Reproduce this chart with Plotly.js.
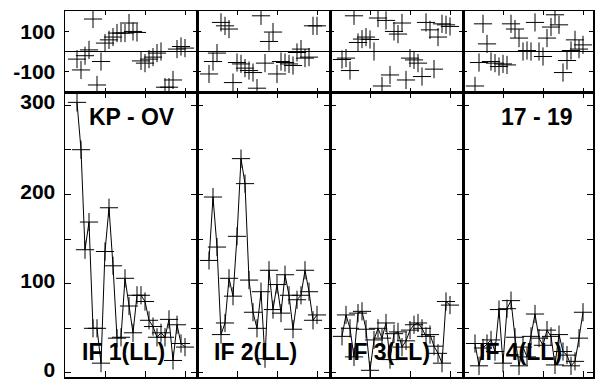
<!DOCTYPE html>
<html><head><meta charset="utf-8">
<script src="https://cdn.plot.ly/plotly-3.0.1.min.js"></script>
<style>html,body{margin:0;padding:0;background:#fff}#chart{width:595px;height:382px}</style>
</head><body><div id="chart"></div>
<script>
// ---- data ----
const sampleIdx = [3,4,5,6,7,8,9,10,11,12,13,14,15,16,17,18,19,20,21,22,23,24,25,26,27,28,29,30];
const panelNames = ['IF 1(LL)','IF 2(LL)','IF 3(LL)','IF 4(LL)'];
const baselineLabel = 'KP - OV';
const timeLabel = '17 - 19';

const amp1 = [303,250,138,169,50,50,11,136,185,120,39,40,106,75,45,87,87,80,59,52,40,45,40,60,14,54,33,29];
const amp2 = [126,197,141,43,56,106,86,153,240,212,104,68,50,91,16,115,71,99,67,110,87,49,82,87,115,91,59,65];
const amp3 = [41,65,50,18,67,69,49,3,37,50,39,56,15,44,46,29,36,48,54,56,50,41,43,30,22,11,80,76];
const amp4 = [33,8,28,33,37,24,71,11,72,81,40,8,29,18,41,66,39,31,48,41,9,43,24,20,8,13,39,68];

const phase1 = [-38,-92,-21,8,162,-167,-50,42,58,72,92,92,92,142,100,95,-47,-58,-38,-28,-8,0,-178,-178,-142,12,25,17];
const phase2 = [-112,-50,-8,145,128,112,-155,-55,-62,-83,-95,-105,-183,178,-58,50,97,-112,-50,-55,-62,-70,-5,12,-33,-28,128,128];
const phase3 = [-40,-33,-95,178,45,62,72,60,0,167,-172,155,-117,100,87,142,-142,-33,-42,-58,-125,145,108,-88,72,138,133,125];
const phase4 = [-172,-55,138,38,-50,-58,-75,-62,-67,138,112,67,0,5,0,145,0,-25,67,122,183,133,-105,-45,5,58,12,33];

const ampTicks = [0,50,100,150,200,250,300];
const ampTickText = ['0','','100','','200','','300'];
const phaseTicks = [-100,100];
const phaseTickText = ['-100','100'];
const xTicks = [10,20,30];

const amps = [amp1,amp2,amp3,amp4];
const phases = [phase1,phase2,phase3,phase4];

// ---- layout geometry ----
const L = 65, R = 2, T = 11, B = 5, W = 595, H = 382;
const pw = W - L - R, ph = H - T - B;
const edges = [65,197,330,463,593];
const splitY = (377 - 92) / ph;
const pxPerUnit = 4;

const tickFont = {family:'Liberation Sans, Arial, sans-serif', size:21, color:'black', weight:'bold'};
const annFont = {family:'Liberation Sans, Arial, sans-serif', size:23, color:'black', weight:'bold'};

const layout = {
  width: W, height: H,
  margin: {l:L, r:R, t:T, b:B, pad:0},
  paper_bgcolor:'white', plot_bgcolor:'white',
  showlegend:false,
  annotations: []
};
const data = [];
const mk = {symbol:'cross-thin-open', size:13, color:'black', line:{color:'black', width:1}};

for (let i = 0; i < 4; i++) {
  const d0 = (edges[i] - L) / pw, d1 = (edges[i+1] - L) / pw;
  const xr = [0, (edges[i+1] - edges[i]) / pxPerUnit];
  const bx = i + 1, by = i + 1, tx = i + 5, ty = i + 5;
  const common = {showline:true, mirror:'ticks', linecolor:'black', linewidth:1.5,
    ticks:'inside', tickcolor:'black', tickwidth:1, showgrid:false, zeroline:false};
  layout['xaxis' + bx] = Object.assign({}, common, {domain:[d0,d1], range:xr, anchor:'y'+by,
    tickvals:xTicks, showticklabels:false, ticklen:6});
  layout['yaxis' + by] = Object.assign({}, common, {domain:[0,splitY], range:[-4.5,314.6], anchor:'x'+bx,
    tickvals:ampTicks, ticktext:ampTickText, showticklabels:i===0, ticklen:6,
    tickfont:tickFont, ticklabelstandoff:4, ticklabelshift:-3, ticklabeloverflow:'allow'});
  layout['xaxis' + tx] = Object.assign({}, common, {domain:[d0,d1], range:xr, anchor:'y'+ty,
    tickvals:xTicks, showticklabels:false, ticklen:4});
  layout['yaxis' + ty] = Object.assign({}, common, {domain:[splitY,1], range:[-202,202], anchor:'x'+tx,
    tickvals:phaseTicks, ticktext:phaseTickText, showticklabels:i===0, ticklen:4,
    zeroline:true, zerolinecolor:'black', zerolinewidth:1, tickfont:tickFont, ticklabelstandoff:4,
    ticklabeloverflow:'allow'});

  data.push({x:sampleIdx, y:amps[i], xaxis:'x'+bx, yaxis:'y'+by, type:'scatter',
    mode:'lines+markers', line:{color:'black', width:1}, marker:mk, hoverinfo:'skip'});
  data.push({x:sampleIdx, y:phases[i], xaxis:'x'+tx, yaxis:'y'+ty, type:'scatter',
    mode:'markers', marker:mk, hoverinfo:'skip'});

  layout.annotations.push({text:panelNames[i], xref:'x'+bx+' domain', yref:'y'+by+' domain',
    x:0.11, y:0.088, xanchor:'left', yanchor:'middle', showarrow:false, font:annFont});
}
layout.annotations.push({text:baselineLabel, xref:'x domain', yref:'y domain',
  x:0.17, y:0.912, xanchor:'left', yanchor:'middle', showarrow:false, font:annFont});
layout.annotations.push({text:timeLabel, xref:'x4 domain', yref:'y4 domain',
  x:0.865, y:0.912, xanchor:'right', yanchor:'middle', showarrow:false, font:annFont});

Plotly.newPlot('chart', data, layout, {staticPlot:true, displayModeBar:false});
</script>
</body></html>
